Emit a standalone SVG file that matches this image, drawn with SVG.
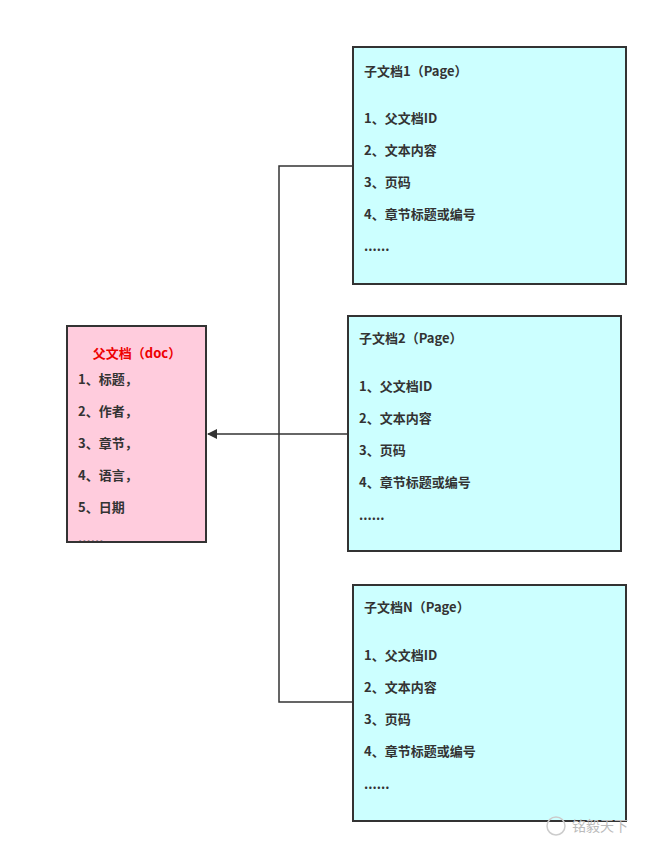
<svg xmlns="http://www.w3.org/2000/svg" width="657" height="853" viewBox="0 0 657 853">
<style>
text{font-family:"Noto Sans CJK SC","Noto Sans",sans-serif;font-size:13px;font-weight:bold;fill:#333}
.child{fill:#ccffff;stroke:#333;stroke-width:2}
.parent{fill:#ffccdd;stroke:#333;stroke-width:2}
.ln{fill:none;stroke:#333;stroke-width:1.5}
</style>
<defs><marker id="ah" markerWidth="10" markerHeight="10" refX="9" refY="5" orient="auto" markerUnits="userSpaceOnUse"><path d="M0,0L10,5L0,10Z" fill="#333"/></marker></defs>
<rect width="657" height="853" fill="#fff"/>
<g id="connectors">
<path class="ln" d="M353,166H279V702H353"/>
<path class="ln" d="M348,434H208" marker-end="url(#ah)"/>
</g>
<g id="parent">
<rect class="parent" x="67" y="326" width="139" height="216"/>
<text x="137" y="358" text-anchor="middle" style="fill:#ee0000">父文档（doc）</text>
<text x="78" y="384">1、标题，</text>
<text x="78" y="416">2、作者，</text>
<text x="78" y="448">3、章节，</text>
<text x="78" y="480">4、语言，</text>
<text x="78" y="512">5、日期</text>
<text x="78" y="543">......</text>
</g>
<g id="child1">
<rect class="child" x="353" y="47" width="273" height="237"/>
<text x="364" y="76">子文档1（Page）</text>
<text x="364" y="123">1、父文档ID</text>
<text x="364" y="155">2、文本内容</text>
<text x="364" y="187">3、页码</text>
<text x="364" y="219">4、章节标题或编号</text>
<text x="364" y="251">......</text>
</g>
<g id="child2">
<rect class="child" x="348" y="316" width="273" height="235"/>
<text x="359" y="343">子文档2（Page）</text>
<text x="359" y="391">1、父文档ID</text>
<text x="359" y="423">2、文本内容</text>
<text x="359" y="455">3、页码</text>
<text x="359" y="487">4、章节标题或编号</text>
<text x="359" y="520">......</text>
</g>
<g id="childN">
<rect class="child" x="353" y="585" width="273" height="236"/>
<text x="364" y="612">子文档N（Page）</text>
<text x="364" y="660">1、父文档ID</text>
<text x="364" y="692">2、文本内容</text>
<text x="364" y="724">3、页码</text>
<text x="364" y="756">4、章节标题或编号</text>
<text x="364" y="789">......</text>
</g>
<g id="watermark">
<circle cx="556" cy="826" r="9" fill="none" stroke="#ccc" stroke-width="1.5"/>
<text x="572" y="831" style="fill:#bbb;font-weight:normal;font-size:14px">铭毅天下</text>
</g>
</svg>
